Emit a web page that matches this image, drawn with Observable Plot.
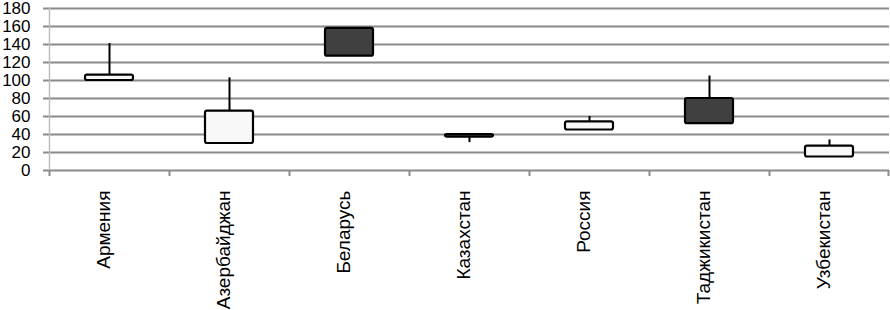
<!DOCTYPE html>
<html>
<head>
<meta charset="utf-8">
<script src="https://cdn.jsdelivr.net/npm/d3@7"></script>
<script src="https://cdn.jsdelivr.net/npm/@observablehq/plot@0.6"></script>
<style>
  body { margin: 0; background: white; }
  svg { overflow: visible; }
</style>
</head>
<body>
<div id="chart"></div>
<script>
const countries = ["Армения", "Азербайджан", "Беларусь", "Казахстан", "Россия", "Таджикистан", "Узбекистан"];
const openV  = [100, 30, 158, 40, 45, 80, 15];
const highV  = [141, 103, 158, 40, 60, 105, 34];
const lowV   = [100, 30, 127, 31, 45, 52, 15];
const closeV = [106, 66, 127, 37, 54, 52, 27];
const yTicks = [0, 20, 40, 60, 80, 100, 120, 140, 160, 180];

const data = countries.map((c, i) => ({
  country: c, open: openV[i], high: highV[i], low: lowV[i], close: closeV[i]
}));

const font = "'Liberation Sans', Arial, sans-serif";

const chart = Plot.plot({
  width: 890,
  height: 310,
  marginLeft: 49,
  marginRight: 1,
  marginTop: 8,
  marginBottom: 140,
  style: { fontFamily: font, background: "white", overflow: "visible" },
  x: { type: "band", domain: countries, padding: 0, axis: null },
  y: { domain: [0, 180], axis: null },
  marks: [
    Plot.ruleY(yTicks, { stroke: "#8a8a8a", strokeWidth: 2 }),
    Plot.axisY({ ticks: yTicks, tickSize: 6, tickPadding: 13, stroke: "#8a8a8a", strokeWidth: 2, fontSize: 17, fill: "#000", label: null }),
    Plot.frame({ anchor: "left", stroke: "#bdbdbd", strokeWidth: 1.5 }),
    Plot.axisX({ ticks: countries, text: null, tickSize: 6, dx: -60, stroke: "#8a8a8a", strokeWidth: 2, label: null }),
    Plot.axisX({ ticks: [countries[countries.length - 1]], text: null, tickSize: 6, dx: 59, stroke: "#8a8a8a", strokeWidth: 2, label: null }),
    Plot.ruleX(data, { x: "country", y1: "low", y2: "high", stroke: "#000", strokeWidth: 2 }),
    Plot.rectY(data, {
      x: "country", y1: "open", y2: "close",
      insetLeft: 36, insetRight: 36,
      fill: d => d.close >= d.open ? "#f8f8f8" : "#404040",
      stroke: "#000", strokeWidth: 2.2, rx: 2
    }),
    Plot.text(countries, {
      x: d => d, frameAnchor: "bottom", rotate: -90, textAnchor: "end",
      dy: 20, fontSize: 19, fill: "#000"
    })
  ]
});
document.getElementById("chart").appendChild(chart);
</script>
</body>
</html>
